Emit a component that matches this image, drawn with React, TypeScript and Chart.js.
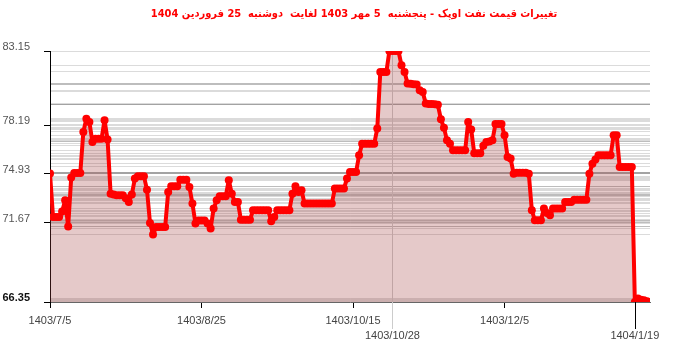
import React, { useEffect, useRef } from 'react';
import { Chart, registerables } from 'chart.js';

Chart.register(...registerables);

const TITLE = 'تغییرات قیمت نفت اوپک - پنجشنبه  5 مهر 1403 لغایت  دوشنبه  25 فروردین 1404';

// One price per calendar day, starting at 1403/7/5 (day 0)
const prices: number[] = [
  74.95, 72.04, 72.04, 72.04, 72.4, 73.16, 71.41, 74.68, 74.99, 74.99,
  74.99, 77.73, 78.62, 78.4, 77.06, 77.28, 77.28, 77.28, 78.51, 77.22,
  73.6, 73.55, 73.5, 73.5, 73.49, 73.3, 73.04, 73.54, 74.61, 74.76,
  74.76, 74.76, 73.87, 71.64, 70.86, 71.37, 71.37, 71.37, 71.37, 73.71,
  74.09, 74.09, 74.09, 74.54, 74.54, 74.54, 74.05, 72.94, 71.6, 71.8,
  71.8, 71.8, 71.6, 71.27, 72.6, 73.16, 73.43, 73.43, 73.43, 74.5,
  73.6, 73.04, 73.04, 71.86, 71.86, 71.86, 71.86, 72.49, 72.49, 72.49,
  72.49, 72.49, 72.49, 71.75, 72.04, 72.49, 72.49, 72.49, 72.49, 72.49,
  73.6, 74.09, 73.71, 73.83, 72.94, 72.94, 72.94, 72.94, 72.94, 72.94,
  72.94, 72.94, 72.94, 72.94, 73.94, 73.94, 73.94, 73.94, 74.61, 75.05,
  75.05, 75.05, 76.17, 76.95, 76.95, 76.95, 76.95, 76.95, 77.96, 81.75,
  81.75, 81.75, 83.15, 83.15, 83.15, 83.15, 82.19, 81.75, 80.97, 80.95,
  80.92, 80.9, 80.52, 80.41, 79.63, 79.6, 79.6, 79.58, 79.55, 78.58,
  78.02, 77.17, 76.95, 76.5, 76.5, 76.5, 76.5, 76.5, 78.4, 77.89,
  76.3, 76.3, 76.3, 76.8, 77.06, 77.1, 77.17, 78.26, 78.26, 78.26,
  77.51, 76.06, 75.95, 74.94, 75.0, 75.0, 75.0, 75.0, 74.94, 72.49,
  71.82, 71.82, 71.82, 72.6, 72.3, 72.15, 72.6, 72.6, 72.6, 72.6,
  73.04, 73.04, 73.04, 73.2, 73.2, 73.2, 73.2, 73.2, 74.94, 75.61,
  75.88, 76.17, 76.17, 76.17, 76.17, 76.17, 77.51, 77.51, 75.39, 75.39,
  75.39, 75.39, 75.39, 66.35, 66.58, 66.5, 66.46, 66.4, 66.35,
];

const xTickDays = [0, 50, 100, 113, 150, 193];
const xTickLabels = ['1403/7/5', '1403/8/25', '1403/10/15', '1403/10/28', '1403/12/5', '1404/1/19'];
const lowerRowLabels = ['1403/10/28', '1404/1/19'];
const yTickLabels = [83.15, 78.19, 74.93, 71.67, 66.35];
const yMin = 66.35;
const yMax = 83.15;

const FONT = "'Liberation Sans', Arial, sans-serif";
const TITLE_FONT = "bold 11px 'DejaVu Sans Condensed', 'DejaVu Sans', sans-serif";

const markerLines = {
  id: 'markerLines',
  beforeDatasetsDraw(chart: any) {
    const { ctx, chartArea, scales } = chart;
    const x = scales.x;
    ctx.save();
    ctx.lineWidth = 1;
    xTickDays.forEach((d, i) => {
      const lab = xTickLabels[i];
      if (!lowerRowLabels.includes(lab)) return;
      const px = Math.round(x.getPixelForValue(d)) + 0.5;
      ctx.beginPath();
      if (i === 3) {
        ctx.strokeStyle = '#cccccc';
        ctx.moveTo(px, chartArea.top);
      } else {
        ctx.strokeStyle = '#000000';
        ctx.moveTo(px, chartArea.bottom);
      }
      ctx.lineTo(px, chartArea.bottom + 27);
      ctx.stroke();
    });
    ctx.restore();
  },
};

const rtlTitle = {
  id: 'rtlTitle',
  afterDraw(chart: any) {
    const { ctx, width } = chart;
    ctx.save();
    ctx.direction = 'rtl';
    ctx.font = TITLE_FONT;
    ctx.fillStyle = '#ff0000';
    ctx.textAlign = 'center';
    ctx.textBaseline = 'middle';
    ctx.fillText(TITLE, width / 2 + 4, 14);
    ctx.restore();
  },
};

export default function App() {
  const ref = useRef<HTMLCanvasElement | null>(null);

  useEffect(() => {
    if (!ref.current) return;
    const chart = new Chart(ref.current, {
      type: 'line',
      data: {
        datasets: [
          {
            data: prices.map((v, i) => ({ x: i, y: v })),
            borderColor: '#ff0000',
            backgroundColor: 'rgba(160,60,60,0.28)',
            borderWidth: 4,
            borderJoinStyle: 'round',
            borderCapStyle: 'round',
            pointRadius: 4,
            pointBorderWidth: 0,
            pointBackgroundColor: '#ff0000',
            tension: 0,
            fill: 'start',
          },
        ],
      },
      options: {
        animation: false,
        responsive: false,
        layout: { padding: { left: 0, right: 50, top: 51, bottom: 0 } },
        plugins: {
          legend: { display: false },
          tooltip: { enabled: false },
          title: { display: false },
        },
        scales: {
          x: {
            type: 'linear',
            min: 0,
            max: prices.length - 1,
            afterBuildTicks: (scale: any) => {
              scale.ticks = xTickDays.map((d) => ({ value: d }));
            },
            afterFit: (scale: any) => {
              scale.height = 50;
            },
            ticks: {
              autoSkip: false,
              maxRotation: 0,
              padding: 5,
              color: '#444',
              font: { family: FONT, size: 11, lineHeight: 1.4 },
              callback: (value: any) => {
                const i = xTickDays.indexOf(Number(value));
                const lab = i >= 0 ? xTickLabels[i] : '';
                return lowerRowLabels.includes(lab) ? ['', lab] : lab;
              },
            },
            grid: {
              drawOnChartArea: false,
              tickLength: 6,
              tickColor: (ctx: any) =>
                lowerRowLabels.includes(xTickLabels[xTickDays.indexOf(ctx.tick?.value)]) ? 'rgba(0,0,0,0)' : '#000',
            },
            border: { display: true, color: '#666', width: 1 },
          },
          y: {
            type: 'linear',
            min: yMin,
            max: yMax,
            afterBuildTicks: (scale: any) => {
              const vals = Array.from(new Set<number>([...prices, ...yTickLabels])).sort((a, b) => a - b);
              scale.ticks = vals.map((v) => ({ value: v }));
            },
            afterFit: (scale: any) => {
              scale.width = 50;
            },
            ticks: {
              autoSkip: false,
              padding: 14,
              labelOffset: -4,
              color: (ctx: any) => (ctx.tick?.value === yMin ? '#111' : '#555'),
              font: (ctx: any) => ({
                family: FONT,
                size: 11,
                weight: ctx.tick?.value === yMin ? 'bold' : 'normal',
              }),
              callback: (value: any) => (yTickLabels.includes(Number(value)) ? Number(value).toFixed(2) : ''),
            },
            grid: {
              color: 'rgba(0,0,0,0.14)',
              lineWidth: 1,
              tickLength: 6,
              tickColor: (ctx: any) => (yTickLabels.includes(ctx.tick?.value) ? '#000' : 'rgba(0,0,0,0)'),
            },
            border: { display: true, color: '#000', width: 1 },
          },
        },
      },
      plugins: [markerLines, rtlTitle],
    });
    return () => chart.destroy();
  }, []);

  return (
    <div style={{ position: 'fixed', left: 0, top: 0, width: 700, height: 352, background: '#fff' }}>
      <canvas ref={ref} width={700} height={352} style={{ display: 'block', width: 700, height: 352 }} />
    </div>
  );
}
